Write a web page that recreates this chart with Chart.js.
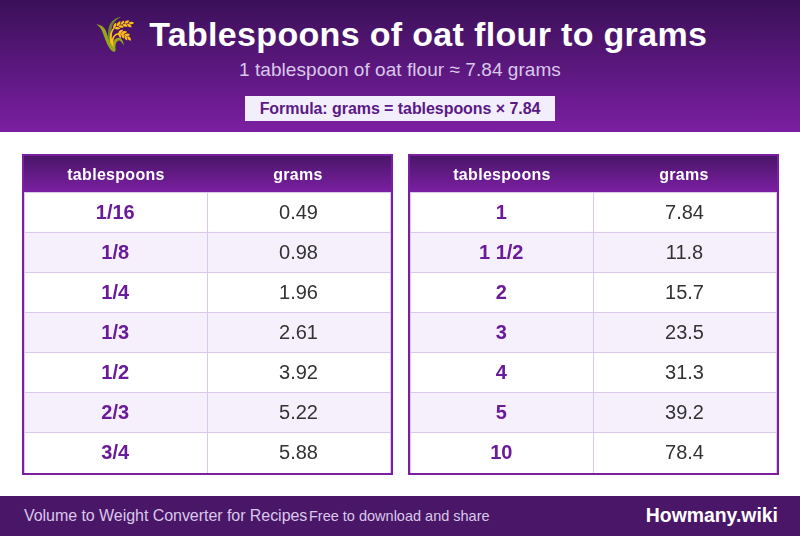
<!DOCTYPE html>
<html>
<head>
<meta charset="utf-8">
<script src="https://cdn.jsdelivr.net/npm/chart.js@4"></script>
<style>
  html, body { margin: 0; padding: 0; }
  body { width: 800px; height: 536px; position: relative; overflow: hidden; background: #fff; font-family: "Liberation Sans", Arial, sans-serif; }
  .header { position: absolute; left: 0; top: 0; width: 800px; height: 132px; background: linear-gradient(180deg, #3a1058, #7b1fa2); text-align: center; }
  .title { position: absolute; left: 0; right: 0; top: 13px; font-size: 34px; line-height: 42px; font-weight: bold; color: #fff; white-space: nowrap; letter-spacing: 0.33px; }
  .title .icon { margin-right: 14px; position: relative; left: 1.5px; }
  .sub { position: absolute; left: 0; right: 0; top: 58px; font-size: 19px; line-height: 24px; color: #d9c8ea; letter-spacing: 0.05px; }
  .formula { position: absolute; left: 245px; top: 96px; width: 310px; height: 25px; line-height: 25px; background: #f3eefb; color: #5a1a86; font-size: 16px; font-weight: bold; letter-spacing: -0.06px; }
  .table { position: absolute; top: 154px; width: 367px; height: 317px; border: 2px solid #7b1fa2; }
  .table canvas { display: block; }
  .footer { position: absolute; left: 0; top: 496px; width: 800px; height: 40px; background: #4a1668; }
  .footer span { position: absolute; white-space: nowrap; }
  .f1 { left: 24px; top: 10px; font-size: 16px; line-height: 20px; color: #d9c8ea; letter-spacing: -0.05px; }
  .f2 { left: 309px; top: 10px; font-size: 14.5px; line-height: 20px; color: #d9c8ea; }
  .brand { right: 22px; top: 7px; font-size: 19.4px; line-height: 24px; font-weight: bold; color: #fff; }
</style>
</head>
<body>
<div class="header">
  <div class="title"><span class="icon">🌾</span>Tablespoons of oat flour to grams</div>
  <div class="sub">1 tablespoon of oat flour ≈ 7.84 grams</div>
  <div class="formula">Formula: grams = tablespoons × 7.84</div>
</div>
<div class="table" style="left:22px"><canvas id="left" width="367" height="317"></canvas></div>
<div class="table" style="left:408px"><canvas id="right" width="367" height="317"></canvas></div>
<div class="footer">
  <span class="f1">Volume to Weight Converter for Recipes</span>
  <span class="f2">Free to download and share</span>
  <span class="brand">Howmany.wiki</span>
</div>
<script>
const columns = ["tablespoons", "grams"];
const leftTablespoons = ["1/16", "1/8", "1/4", "1/3", "1/2", "2/3", "3/4"];
const leftGrams = ["0.49", "0.98", "1.96", "2.61", "3.92", "5.22", "5.88"];
const rightTablespoons = ["1", "1 1/2", "2", "3", "4", "5", "10"];
const rightGrams = ["7.84", "11.8", "15.7", "23.5", "31.3", "39.2", "78.4"];

const HEAD_H = 36;

// header band and all the cell text, placed from the scales and bars
const tablePlugin = {
  id: "tableText",
  beforeDraw(chart) {
    const ctx = chart.ctx;
    const grad = ctx.createLinearGradient(0, 0, 0, HEAD_H);
    grad.addColorStop(0, "#4a1668");
    grad.addColorStop(1, "#7b1fa2");
    ctx.fillStyle = grad;
    ctx.fillRect(0, 0, chart.width, HEAD_H);
  },
  afterDatasetsDraw(chart) {
    const ctx = chart.ctx;
    const x = chart.scales.x;
    ctx.save();
    ctx.textAlign = "center";
    ctx.textBaseline = "middle";
    ctx.fillStyle = "#fff";
    ctx.font = 'bold 16px "Liberation Sans"';
    ctx.letterSpacing = "0.3px";
    columns.forEach((c, i) => ctx.fillText(c, x.getPixelForValue(i + 0.5) - i, HEAD_H / 2 + 2));
    ctx.letterSpacing = "0px";
    chart.data.datasets.forEach((ds, d) => {
      ctx.font = d === 0 ? 'bold 20px "Liberation Sans"' : '20px "Liberation Sans"';
      ctx.fillStyle = d === 0 ? "#6a1b9a" : "#333";
      chart.getDatasetMeta(d).data.forEach((bar, i) => {
        const p = bar.getCenterPoint();
        ctx.fillText(ds.cellText[i], p.x - (d === 0 ? 1 : 0.5), p.y + 1);
      });
    });
    ctx.restore();
  }
};

function makeTable(id, tablespoons, grams) {
  const cellFill = c => (c.dataIndex % 2 ? "#f5f0fc" : "#fff");
  return new Chart(document.getElementById(id), {
    type: "bar",
    plugins: [tablePlugin],
    data: {
      labels: tablespoons,
      datasets: [
        { label: columns[0], cellText: tablespoons, data: tablespoons.map(() => [0, 1]), backgroundColor: cellFill },
        { label: columns[1], cellText: grams, data: grams.map(() => [1, 2]), backgroundColor: cellFill }
      ]
    },
    options: {
      indexAxis: "y",
      responsive: false,
      animation: false,
      devicePixelRatio: 1,
      layout: { padding: { top: HEAD_H, bottom: 0, left: 0.5, right: 0.5 } },
      grouped: false,
      barPercentage: 1,
      categoryPercentage: 1,
      plugins: { legend: { display: false }, tooltip: { enabled: false } },
      scales: {
        x: {
          min: 0, max: 2,
          ticks: { display: false, stepSize: 1 },
          border: { display: false },
          grid: { color: "#d9c8ea", drawTicks: false, z: 1, lineWidth: 1 }
        },
        y: {
          ticks: { display: false },
          border: { display: false },
          grid: { color: "#d9c8ea", drawTicks: false, z: 1, lineWidth: 1, offset: true }
        }
      }
    }
  });
}

makeTable("left", leftTablespoons, leftGrams);
makeTable("right", rightTablespoons, rightGrams);
</script>
</body>
</html>
